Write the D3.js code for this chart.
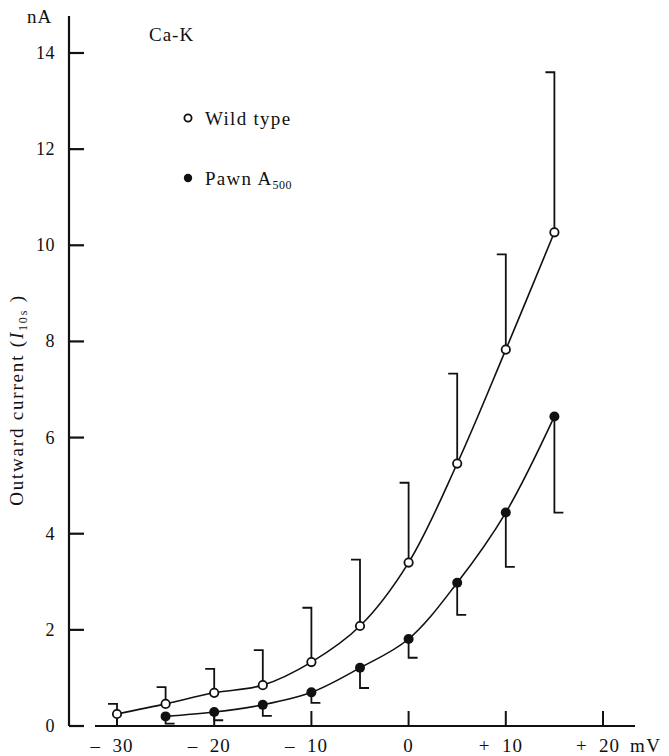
<!DOCTYPE html>
<html>
<head>
<meta charset="utf-8">
<script src="https://cdn.jsdelivr.net/npm/d3@7"></script>
<style>
  body { margin: 0; background: #fff; }
  svg text { font-family: "Liberation Serif", "Times New Roman", serif; fill: #111; white-space: pre; }
</style>
</head>
<body>
<div id="chart"></div>
<script>
// voltages (mV)
const voltages = [-30, -25, -20, -15, -10, -5, 0, 5, 10, 15];

// wild type: mean current and upper error bar (nA)
const wildMean = [0.25, 0.46, 0.69, 0.85, 1.33, 2.08, 3.4, 5.46, 7.83, 10.27];
const wildUpper = [0.46, 0.81, 1.19, 1.58, 2.46, 3.46, 5.06, 7.33, 9.81, 13.6];

// pawn A500: mean current and lower error bar (nA), no value at -30
const pawnVolts = [-25, -20, -15, -10, -5, 0, 5, 10, 15];
const pawnMean = [0.2, 0.29, 0.44, 0.7, 1.21, 1.81, 2.98, 4.44, 6.44];
const pawnLower = [0.05, 0.12, 0.21, 0.48, 0.79, 1.42, 2.31, 3.31, 4.44];

const yTicks = [0, 2, 4, 6, 8, 10, 12, 14];
const xTicks = [-30, -20, -10, 0, 10, 20];
const xTickLabels = ["\u2013 30", "\u2013 20", "\u2013 10", "0", "+ 10", "+ 20"];

const W = 669, H = 756;
const svg = d3.select("#chart").append("svg")
  .attr("width", W).attr("height", H);

// scales
const x = d3.scaleLinear().domain([-30, 20]).range([117, 603]);
const y = d3.scaleLinear().domain([0, 14]).range([726, 53]);

const ink = "#111";
const tickLen = 15;

// y axis line
svg.append("line")
  .attr("x1", 69).attr("x2", 69)
  .attr("y1", 16).attr("y2", y(0))
  .attr("stroke", ink).attr("stroke-width", 2.2);

// y ticks (inside, pointing right)
svg.selectAll(".ytick").data(yTicks).enter().append("line")
  .attr("x1", 69).attr("x2", 69 + tickLen)
  .attr("y1", d => y(d)).attr("y2", d => y(d))
  .attr("stroke", ink).attr("stroke-width", 2.2);

svg.selectAll(".ylab").data(yTicks).enter().append("text")
  .attr("x", 55).attr("y", d => y(d) + 6)
  .attr("text-anchor", "end")
  .attr("font-size", 18).attr("letter-spacing", 0.5)
  .text(d => d);

svg.append("text").attr("x", 27).attr("y", 23)
  .attr("font-size", 19).attr("letter-spacing", 1).text("nA");

// x axis line
svg.append("line")
  .attr("x1", 95).attr("x2", 635)
  .attr("y1", y(0)).attr("y2", y(0))
  .attr("stroke", ink).attr("stroke-width", 2.2);

// x ticks (inside, pointing up)
svg.selectAll(".xtick").data(xTicks).enter().append("line")
  .attr("x1", d => x(d)).attr("x2", d => x(d))
  .attr("y1", y(0)).attr("y2", y(0) - tickLen)
  .attr("stroke", ink).attr("stroke-width", 2);

svg.selectAll(".xlab").data(xTicks).enter().append("text")
  .attr("x", d => x(d) - (d < 0 ? 5 : (d > 0 ? 5 : 0)))
  .attr("y", 752)
  .attr("text-anchor", "middle")
  .attr("font-size", 19).attr("letter-spacing", 1)
  .text((d, i) => xTickLabels[i].replace(" ", "  "));

svg.append("text").attr("x", 630).attr("y", 752)
  .attr("font-size", 19).attr("letter-spacing", 1.5).text("mV");

// y axis title
const yt = svg.append("text")
  .attr("transform", "translate(23,400) rotate(-90)")
  .attr("text-anchor", "middle")
  .attr("font-size", 19).attr("letter-spacing", 1.8);
yt.append("tspan").text("Outward current (");
yt.append("tspan").attr("font-style", "italic").text("I");
yt.append("tspan").attr("font-size", 12).attr("dy", 4).text("10s");
yt.append("tspan").attr("dy", -4).text(" )");

// panel label and legend
svg.append("text").attr("x", 149).attr("y", 41)
  .attr("font-size", 19).attr("letter-spacing", 1).text("Ca-K");

svg.append("circle").attr("cx", 188).attr("cy", 118).attr("r", 3.6)
  .attr("fill", "#fff").attr("stroke", ink).attr("stroke-width", 1.8);
svg.append("text").attr("x", 205).attr("y", 125)
  .attr("font-size", 19).attr("letter-spacing", 1.3).text("Wild type");

svg.append("circle").attr("cx", 188).attr("cy", 178).attr("r", 4.2)
  .attr("fill", ink);
const pl = svg.append("text").attr("x", 205).attr("y", 185)
  .attr("font-size", 19).attr("letter-spacing", 1.3);
pl.append("tspan").text("Pawn A");
pl.append("tspan").attr("font-size", 12).attr("dy", 4).attr("letter-spacing", 0.5).text("500");

// data
const wild = voltages.map((v, i) => ({v: v, m: wildMean[i], e: wildUpper[i]}));
const pawn = pawnVolts.map((v, i) => ({v: v, m: pawnMean[i], e: pawnLower[i]}));

const line = d3.line()
  .x(d => x(d.v)).y(d => y(d.m))
  .curve(d3.curveCatmullRom.alpha(0.5));

svg.append("path").datum(wild).attr("d", line)
  .attr("fill", "none").attr("stroke", ink).attr("stroke-width", 1.6);
svg.append("path").datum(pawn).attr("d", line)
  .attr("fill", "none").attr("stroke", ink).attr("stroke-width", 1.6);

const cap = 9;

// wild type error bars: up, cap to the left
svg.selectAll(".werr").data(wild).enter().append("path")
  .attr("d", d => `M${x(d.v)},${y(d.m)}V${y(d.e)}h${-cap}`)
  .attr("fill", "none").attr("stroke", ink).attr("stroke-width", 1.8);

// pawn error bars: down, cap to the right
svg.selectAll(".perr").data(pawn).enter().append("path")
  .attr("d", d => `M${x(d.v)},${y(d.m)}V${y(d.e)}h${cap}`)
  .attr("fill", "none").attr("stroke", ink).attr("stroke-width", 1.8);

svg.selectAll(".wpt").data(wild).enter().append("circle")
  .attr("cx", d => x(d.v)).attr("cy", d => y(d.m)).attr("r", 4.2)
  .attr("fill", "#fff").attr("stroke", ink).attr("stroke-width", 1.8);

svg.selectAll(".ppt").data(pawn).enter().append("circle")
  .attr("cx", d => x(d.v)).attr("cy", d => y(d.m)).attr("r", 5)
  .attr("fill", ink);
</script>
</body>
</html>
